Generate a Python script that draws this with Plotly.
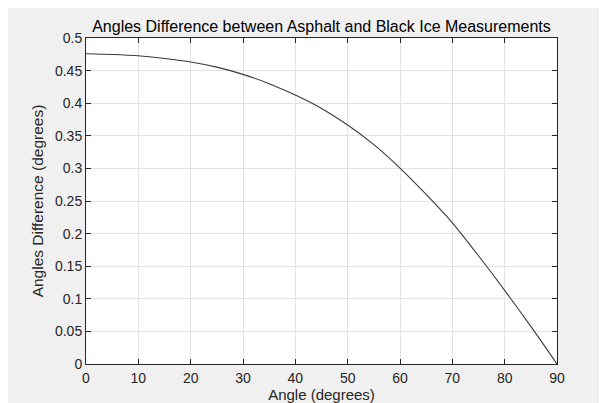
import plotly.graph_objects as go

# Data
angles = [0, 5, 10, 15, 20, 25, 30, 35, 40, 45, 50, 55, 60, 65, 70, 75, 80, 85, 90]
angle_diff = [0.4758, 0.4747, 0.4727, 0.4685, 0.4632, 0.4553, 0.4442, 0.4300, 0.4125,
              0.3920, 0.3665, 0.3365, 0.3005, 0.2600, 0.2165, 0.1660, 0.1130, 0.0577, 0.0]
x_ticks = [0, 10, 20, 30, 40, 50, 60, 70, 80, 90]
y_ticks = [0, 0.05, 0.1, 0.15, 0.2, 0.25, 0.3, 0.35, 0.4, 0.45, 0.5]
y_tick_text = ["0", "0.05", "0.1", "0.15", "0.2", "0.25", "0.3", "0.35", "0.4", "0.45", "0.5"]

# page body adds an 8px margin, so the figure starts at (8, 8) in the window
W, H = 599, 395
L, R, T, B = 78, 50, 29.5, 39
pw = W - L - R
ph = H - T - B

FONT = "Liberation Sans, Arial, sans-serif"

fig = go.Figure()
fig.add_trace(go.Scatter(x=angles, y=angle_diff, mode="lines",
                         line=dict(color="#3a3a3a", width=1.1, shape="spline", smoothing=0.8),
                         showlegend=False, hoverinfo="skip"))

axis_common = dict(
    showline=True, linecolor="#262626", linewidth=1, mirror="allticks",
    ticks="inside", ticklen=5, tickwidth=1, tickcolor="#262626",
    showgrid=True, gridcolor="#e3e3e3", gridwidth=1, zeroline=False,
    tickfont=dict(family=FONT, size=14, color="#262626"),
)

fig.update_xaxes(range=[0, 90], tickvals=x_ticks, ticktext=[str(v) for v in x_ticks],
                 ticklabelstandoff=1,
                 title=dict(text="Angle (degrees)", standoff=5,
                            font=dict(family=FONT, size=15, color="#262626")),
                 **axis_common)
fig.update_yaxes(range=[0, 0.5], tickvals=y_ticks, ticktext=y_tick_text,
                 title=dict(text="Angles Difference (degrees)", standoff=7,
                            font=dict(family=FONT, size=15.5, color="#262626")),
                 **axis_common)

fig.update_layout(
    width=W, height=H,
    margin=dict(l=L, r=R, t=T, b=B, autoexpand=False),
    paper_bgcolor="#f0f0f0", plot_bgcolor="white",
    title=dict(text="Angles Difference between Asphalt and Black Ice Measurements",
               x=(L + pw / 2) / W, xanchor="center", y=1 - 18.5 / H, yanchor="middle",
               font=dict(family=FONT, size=16, color="#000000")),
)

fig.write_html("out.html")
